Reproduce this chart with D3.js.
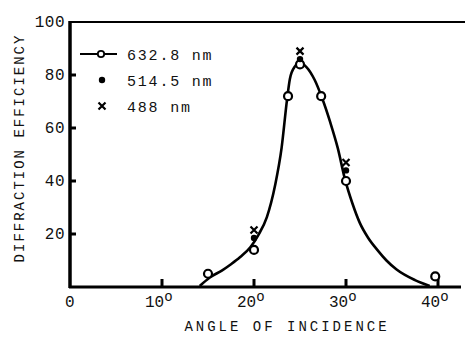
<!DOCTYPE html>
<html>
<head>
<meta charset="utf-8">
<script src="https://cdn.jsdelivr.net/npm/d3@7"></script>
<style>
  body { margin: 0; background: #fff; }
  text { font-family: "Liberation Mono", "DejaVu Sans Mono", monospace; fill: #111; }
</style>
</head>
<body>
<div id="chart"></div>
<script>
// measured points
var angles632 = [15, 20, 23.7, 25, 27.3, 30, 39.7];
var eff632 = [5, 14, 72, 84, 72, 40, 4];
var angles514 = [20, 25, 30];
var eff514 = [18.5, 86, 44];
var angles488 = [20, 25, 30];
var eff488 = [21.5, 89, 47];

// fitted curve
var curveAngles = [14.1, 15.2, 16.5, 17.5, 18.5, 19.6, 20.5, 21.4, 22.3, 23.0, 23.6, 23.9, 24.4, 25.0, 25.7, 26.6, 27.4, 28.3, 29.1, 29.9, 30.7, 31.5, 32.4, 33.4, 34.4, 35.5, 37.5, 39.1];
var curveEff = [0.4, 3.6, 6.2, 8.6, 11.3, 15.0, 19.8, 26.4, 38.5, 52.5, 71.0, 78.5, 83.0, 84.5, 83.0, 78.1, 71.3, 62.0, 52.5, 40.5, 31.5, 24.2, 18.6, 14.0, 10.0, 6.6, 2.6, 0.4];

var xTicks = [0, 10, 20, 30, 40];
var yTicks = [20, 40, 60, 80, 100];
var legendLabels = ["632.8 nm", "514.5 nm", "488 nm"];

var width = 465, height = 340;

var svg = d3.select("#chart").append("svg")
    .attr("width", width)
    .attr("height", height);

var x = d3.scaleLinear().domain([0, 42.5]).range([70, 461]);
var y = d3.scaleLinear().domain([0, 100]).range([287, 22]);

// frame: left axis, bottom axis, top line
svg.append("line")
    .attr("x1", x(0)).attr("x2", x(0))
    .attr("y1", y(100) - 1).attr("y2", y(0) + 1)
    .attr("stroke", "#000").attr("stroke-width", 3.5);
svg.append("line")
    .attr("x1", x(0) - 1).attr("x2", x(42.5))
    .attr("y1", y(0)).attr("y2", y(0))
    .attr("stroke", "#000").attr("stroke-width", 3);
svg.append("line")
    .attr("x1", x(0) - 1).attr("x2", width)
    .attr("y1", y(100)).attr("y2", y(100))
    .attr("stroke", "#000").attr("stroke-width", 2.2);

// y ticks (stubs to the right)
svg.selectAll(".ytick")
    .data(yTicks.filter(d => d < 100))
    .enter().append("line")
    .attr("x1", x(0)).attr("x2", x(0) + 6)
    .attr("y1", d => y(d)).attr("y2", d => y(d))
    .attr("stroke", "#000").attr("stroke-width", 3);

svg.selectAll(".ylabel")
    .data(yTicks)
    .enter().append("text")
    .attr("x", x(0) - 5)
    .attr("y", d => y(d) + 5)
    .attr("text-anchor", "end")
    .style("font-size", "16px")
    .style("letter-spacing", "0.5px")
    .text(d => d);

// x ticks (stubs upward)
svg.selectAll(".xtick")
    .data(xTicks.filter(d => d > 0))
    .enter().append("line")
    .attr("x1", d => x(d)).attr("x2", d => x(d))
    .attr("y1", y(0)).attr("y2", y(0) - 8)
    .attr("stroke", "#000").attr("stroke-width", 3);

var xl = svg.selectAll(".xlabel")
    .data(xTicks)
    .enter().append("text")
    .attr("x", d => d === 0 ? x(d) - 5 : x(d) - 17)
    .attr("y", y(0) + 20)
    .style("font-size", "16px")
    .text(d => d);
xl.filter(d => d > 0).append("tspan")
    .attr("dy", -6)
    .style("font-size", "14px")
    .text("o");

// axis titles
svg.append("text")
    .attr("x", 287)
    .attr("y", 331)
    .attr("text-anchor", "middle")
    .style("font-size", "14px")
    .style("letter-spacing", "3px")
    .text("ANGLE OF INCIDENCE");

svg.append("text")
    .attr("transform", "translate(24,148) rotate(-90)")
    .attr("text-anchor", "middle")
    .style("font-size", "14px")
    .style("letter-spacing", "2px")
    .text("DIFFRACTION EFFICIENCY");

// fitted curve
var curveData = curveAngles.map((a, i) => [a, curveEff[i]]);
var line = d3.line()
    .x(d => x(d[0]))
    .y(d => y(d[1]))
    .curve(d3.curveMonotoneX);
svg.append("path")
    .datum(curveData)
    .attr("d", line)
    .attr("fill", "none")
    .attr("stroke", "#000")
    .attr("stroke-width", 2.6);

// 632.8 nm open circles
svg.selectAll(".c632")
    .data(angles632.map((a, i) => [a, eff632[i]]))
    .enter().append("circle")
    .attr("cx", d => x(d[0])).attr("cy", d => y(d[1]))
    .attr("r", 4)
    .attr("fill", "#fff").attr("stroke", "#000").attr("stroke-width", 2.2);

// 514.5 nm filled dots
svg.selectAll(".c514")
    .data(angles514.map((a, i) => [a, eff514[i]]))
    .enter().append("circle")
    .attr("cx", d => x(d[0])).attr("cy", d => y(d[1]))
    .attr("r", 3.2)
    .attr("fill", "#000");

// 488 nm crosses
svg.selectAll(".c488")
    .data(angles488.map((a, i) => [a, eff488[i]]))
    .enter().append("path")
    .attr("d", "M-3.5,-3.5L3.5,3.5M-3.5,3.5L3.5,-3.5")
    .attr("transform", d => "translate(" + x(d[0]) + "," + y(d[1]) + ")")
    .attr("stroke", "#000").attr("stroke-width", 2.2);

// legend
var lg = svg.append("g");
var rowY = [54, 80, 106];
lg.append("line")
    .attr("x1", 80).attr("x2", 117)
    .attr("y1", rowY[0]).attr("y2", rowY[0])
    .attr("stroke", "#000").attr("stroke-width", 1.8);
lg.append("circle")
    .attr("cx", 101).attr("cy", rowY[0]).attr("r", 3.2)
    .attr("fill", "#fff").attr("stroke", "#000").attr("stroke-width", 1.8);
lg.append("circle")
    .attr("cx", 102).attr("cy", rowY[1]).attr("r", 3.2)
    .attr("fill", "#000");
lg.append("path")
    .attr("d", "M-3.5,-3.5L3.5,3.5M-3.5,3.5L3.5,-3.5")
    .attr("transform", "translate(102," + rowY[2] + ")")
    .attr("stroke", "#000").attr("stroke-width", 2.2);
lg.selectAll(".ltext")
    .data(legendLabels)
    .enter().append("text")
    .attr("x", 127)
    .attr("y", (d, i) => rowY[i] + 6)
    .style("font-size", "15px")
    .style("letter-spacing", "1.8px")
    .text(d => d);
</script>
</body>
</html>
